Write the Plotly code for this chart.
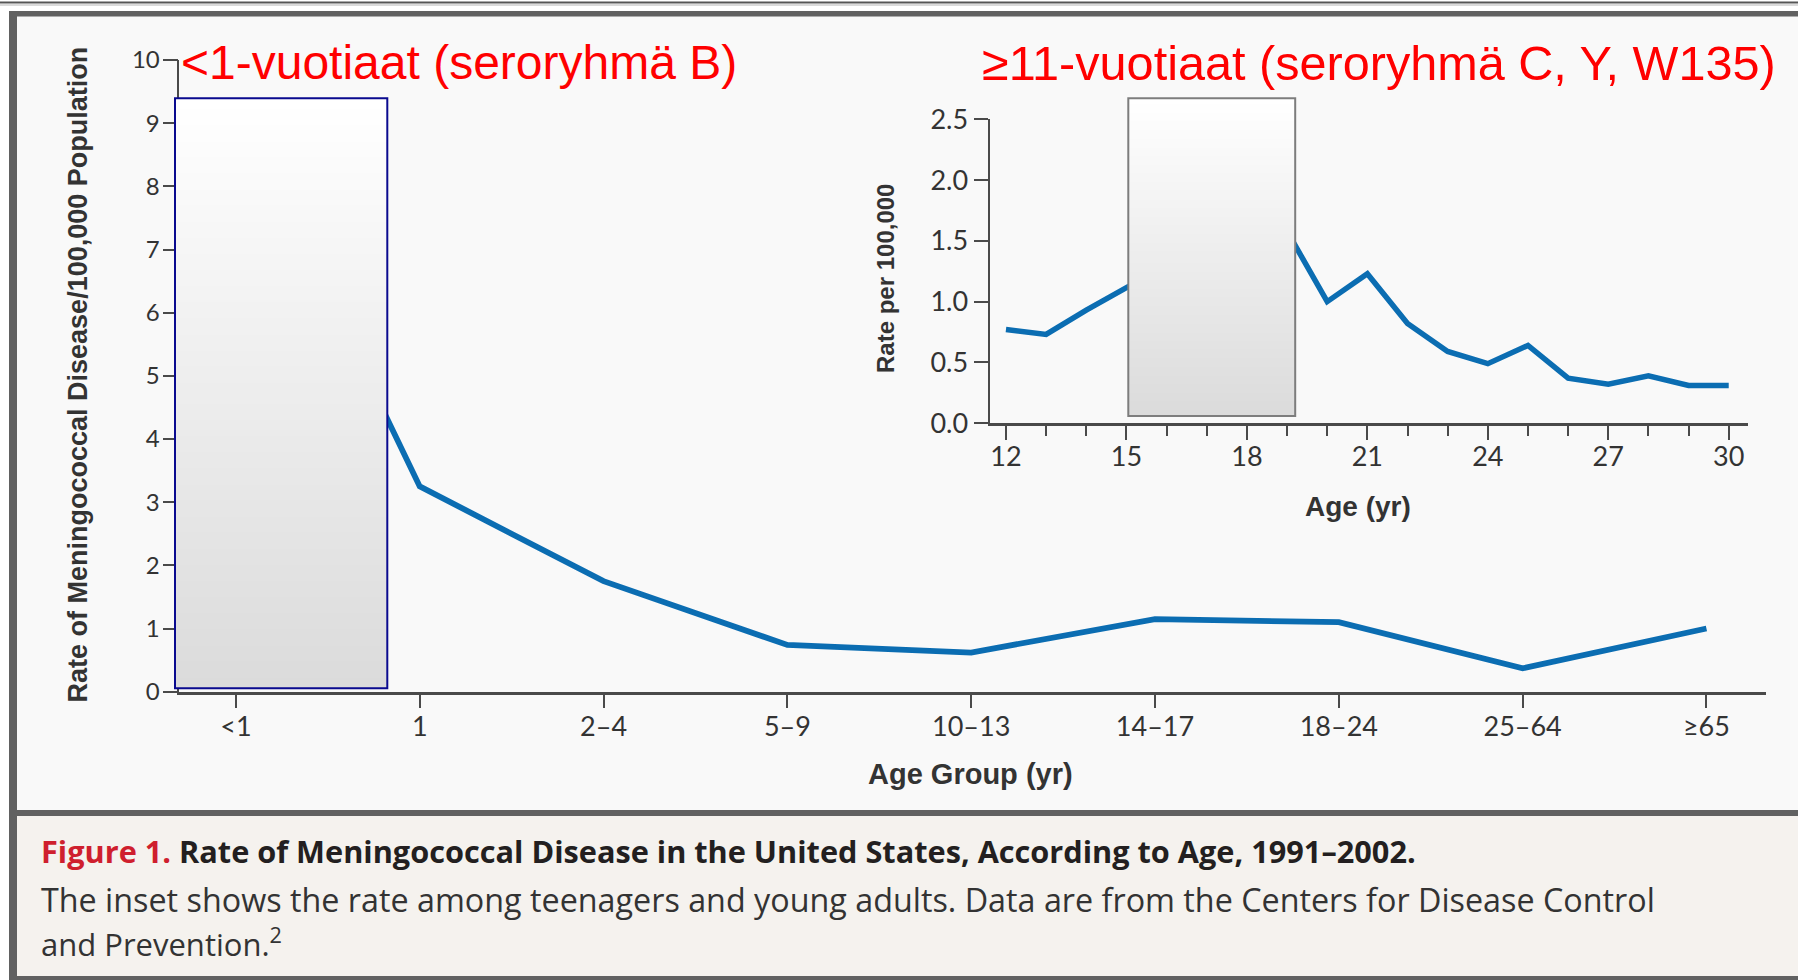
import plotly.graph_objects as go

# ---------------- data ----------------
categories = ["<1", "1", "2–4", "5–9", "10–13", "14–17", "18–24", "25–64", "≥65"]
main_rates = [9.3, 3.25, 1.75, 0.74, 0.62, 1.15, 1.10, 0.37, 1.00]

inset_ages = [12, 13, 14, 15, 16, 17, 18, 19, 20, 21, 22, 23, 24, 25, 26, 27, 28, 29, 30]
inset_rates = [0.77, 0.73, 0.93, 1.12, 1.30, 1.45, 1.55, 1.58, 1.00, 1.23, 0.82, 0.59,
               0.49, 0.64, 0.37, 0.32, 0.39, 0.31, 0.31]
inset_tickvals = [12, 15, 18, 21, 24, 27, 30]

main_ytitle = "Rate of Meningococcal Disease/100,000 Population"
main_xtitle = "Age Group (yr)"
inset_ytitle = "Rate per 100,000"
inset_xtitle = "Age (yr)"
label_left = "<1-vuotiaat (seroryhmä B)"
label_right = "≥11-vuotiaat (seroryhmä C, Y, W135)"
caption_fig = "Figure 1."
caption_title = "Rate of Meningococcal Disease in the United States, According to Age, 1991–2002."
caption_line2 = "The inset shows the rate among teenagers and young adults. Data are from the Centers for Disease Control"
caption_line3 = "and Prevention.<sup>2</sup>"

# ---------------- geometry helpers ----------------
W, H = 1798, 980


def px(x):
    return x / W


def py(y):
    return 1 - y / H


LINE_BLUE = "#0b6db2"
AX = "#4a4a4a"
TICKFONT = dict(family="Lato, Liberation Sans, sans-serif", size=27, color="#333333")
TITLEFONT = "Liberation Sans, Arial, sans-serif"

fig = go.Figure()
fig.add_trace(go.Scatter(x=categories, y=main_rates, mode="lines",
                         line=dict(color=LINE_BLUE, width=5.8), hoverinfo="skip",
                         xaxis="x", yaxis="y", showlegend=False))
fig.add_trace(go.Scatter(x=inset_ages, y=inset_rates, mode="lines",
                         line=dict(color=LINE_BLUE, width=5.5), hoverinfo="skip",
                         xaxis="x2", yaxis="y2", showlegend=False))

shapes = []
# page decorations
shapes.append(dict(type="rect", xref="paper", yref="paper", x0=px(13), x1=px(W), y0=py(813), y1=py(13),
                   fillcolor="#f9f9f9", line=dict(width=0), layer="below"))
shapes.append(dict(type="rect", xref="paper", yref="paper", x0=px(13), x1=px(W), y0=py(978), y1=py(813),
                   fillcolor="#f5f2ee", line=dict(width=0), layer="below"))
shapes.append(dict(type="line", xref="paper", yref="paper", x0=0, x1=1, y0=py(2.5), y1=py(2.5),
                   line=dict(color="#555555", width=2), layer="below"))
shapes.append(dict(type="line", xref="paper", yref="paper", x0=0, x1=1, y0=py(5), y1=py(5),
                   line=dict(color="#b5b5b5", width=1.2), layer="below"))
FRAME = "#616161"
for (x0, x1, y0, y1) in [(9, W, 11, 16.5), (9, 17, 11, 980), (9, W, 810, 816), (9, W, 976, 980)]:
    shapes.append(dict(type="rect", xref="paper", yref="paper", x0=px(x0), x1=px(x1), y0=py(y1), y1=py(y0),
                       fillcolor=FRAME, line=dict(width=0), layer="below"))


def gradient_box(x0, x1, y0, y1, border, bw, n=110, top=255, bottom=219):
    h = (y1 - y0) / n
    for k in range(n):
        t = (k + 0.5) / n
        c = int(round(top - t * (top - bottom)))
        ya = y0 + k * h
        yb = min(y1, ya + h + 0.8)
        shapes.append(dict(type="rect", xref="paper", yref="paper", x0=px(x0), x1=px(x1),
                           y0=py(yb), y1=py(ya), fillcolor=f"rgb({c},{c},{c})",
                           line=dict(width=0), layer="above"))
    shapes.append(dict(type="rect", xref="paper", yref="paper", x0=px(x0), x1=px(x1),
                       y0=py(y1), y1=py(y0), fillcolor="rgba(0,0,0,0)",
                       line=dict(color=border, width=bw), layer="above"))


gradient_box(175, 387.3, 98.3, 688.3, "#0a0a8f", 2)
gradient_box(1128.3, 1295.2, 98.3, 416, "#7d7d7d", 2)

annotations = [
    dict(text=main_ytitle, x=px(77), y=py(374.5), xref="paper", yref="paper", textangle=-90,
         showarrow=False, font=dict(family=TITLEFONT, size=27, color="#333333", weight="bold"),
         xanchor="center", yanchor="middle"),
    dict(text=main_xtitle, x=px(970.7), y=py(774), xref="paper", yref="paper",
         showarrow=False, font=dict(family=TITLEFONT, size=29, color="#333333", weight="bold"),
         xanchor="center", yanchor="middle"),
    dict(text=inset_ytitle, x=px(885), y=py(279), xref="paper", yref="paper", textangle=-90,
         showarrow=False, font=dict(family=TITLEFONT, size=24, color="#333333", weight="bold"),
         xanchor="center", yanchor="middle"),
    dict(text=inset_xtitle, x=px(1358), y=py(506.5), xref="paper", yref="paper",
         showarrow=False, font=dict(family=TITLEFONT, size=28, color="#333333", weight="bold"),
         xanchor="center", yanchor="middle"),
    dict(text=label_left, x=px(179), y=py(62.7), xref="paper", yref="paper",
         showarrow=False, font=dict(family="Liberation Sans, Arial, sans-serif", size=48, color="#ff0000"),
         xanchor="left", yanchor="middle"),
    dict(text=label_right, x=px(980), y=py(62.7), xref="paper", yref="paper",
         showarrow=False, font=dict(family="Liberation Sans, Arial, sans-serif", size=48.6, color="#ff0000"),
         xanchor="left", yanchor="middle"),
    dict(text=f"<span style='color:#cf1f2e'>{caption_fig}</span> {caption_title}", x=px(39), y=py(850.5),
         xref="paper", yref="paper", showarrow=False, align="left",
         font=dict(family="Open Sans, sans-serif", size=30.7, color="#231f20", weight="bold"),
         xanchor="left", yanchor="middle"),
    dict(text=caption_line2, x=px(39), y=py(898.5), xref="paper", yref="paper", showarrow=False,
         font=dict(family="Open Sans, sans-serif", size=32.3, color="#333333"),
         xanchor="left", yanchor="middle", align="left"),
    dict(text=caption_line3, x=px(39), y=py(942.5), xref="paper", yref="paper", showarrow=False,
         font=dict(family="Open Sans, sans-serif", size=31, color="#333333"),
         xanchor="left", yanchor="middle", align="left"),
]

common = dict(showgrid=False, zeroline=False, fixedrange=True, automargin=False,
              showline=True, linecolor=AX, ticks="outside", tickcolor=AX)

fig.update_layout(
    width=W, height=H, autosize=False,
    margin=dict(l=0, r=0, t=0, b=0, pad=0, autoexpand=False),
    paper_bgcolor="#ffffff", plot_bgcolor="rgba(0,0,0,0)",
    showlegend=False,
    xaxis=dict(common, domain=[px(179.3), px(1766)], type="category", range=[-0.308, 8.324],
               linewidth=2.5, ticklen=14, tickwidth=2, tickfont=TICKFONT, anchor="y",
               ticklabelstandoff=-5),
    yaxis=dict(common, domain=[py(691.7), py(60)], range=[0, 10], dtick=1, tick0=0,
               linewidth=1.5, ticklen=15, tickwidth=1.5, tickfont=dict(TICKFONT, size=24), anchor="x",
               ticklabelstandoff=-2),
    xaxis2=dict(common, domain=[px(989.5), px(1747.6)], range=[11.59, 30.47], tickvals=inset_tickvals,
                linewidth=2.5, ticklen=14, tickwidth=2, tickfont=TICKFONT,
                minor=dict(dtick=1, tick0=12, ticks="outside", ticklen=10, tickwidth=2, tickcolor=AX),
                anchor="y2", ticklabelstandoff=-6),
    yaxis2=dict(common, domain=[py(423.2), py(119.3)], range=[0, 2.5], dtick=0.5, tick0=0, tickformat=".1f",
                linewidth=2, ticklen=14, tickwidth=2, tickfont=TICKFONT, anchor="x2"),
    shapes=shapes,
    annotations=annotations,
)

fig.write_html("out.html", config={"displayModeBar": False},
               post_script="document.body.style.margin='0px';document.body.style.padding='0px';")
